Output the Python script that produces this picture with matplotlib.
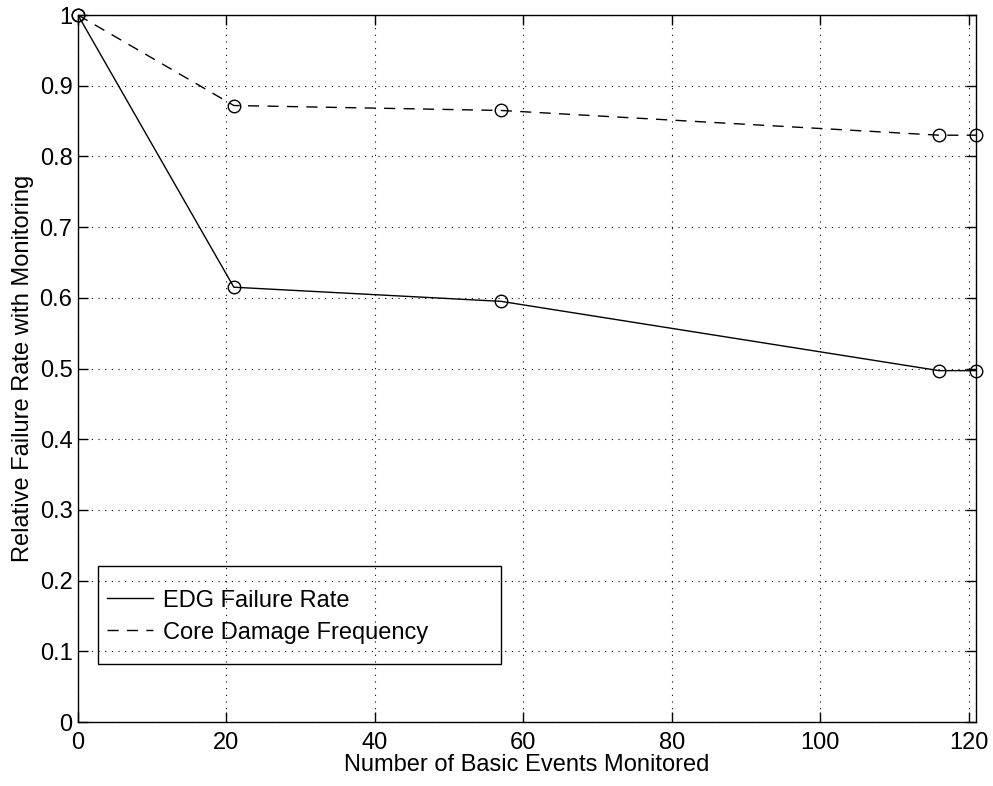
import matplotlib
matplotlib.use('Agg')
import matplotlib.pyplot as plt
import matplotlib.ticker as ticker
from matplotlib.patches import Rectangle

plt.rcParams['font.family'] = ['Liberation Sans', 'DejaVu Sans']

# basic events monitored vs. relative rates
events = [0, 21, 57, 116, 121]
edg_rate = [1.0, 0.615, 0.595, 0.497, 0.497]
cdf_rate = [1.0, 0.872, 0.865, 0.830, 0.830]

x_ticks = [0, 20, 40, 60, 80, 100, 120]
y_ticks = [0, 0.1, 0.2, 0.3, 0.4, 0.5, 0.6, 0.7, 0.8, 0.9, 1.0]

FS = 17

fig = plt.figure(figsize=(9.93, 7.86), dpi=100)
ax = fig.add_axes([0.0785, 0.0814, 0.9045, 0.8995])

ax.plot(events, edg_rate, color='black', linewidth=1.0, linestyle='-',
        label='EDG Failure Rate')
ax.plot(events, cdf_rate, color='black', linewidth=1.0, linestyle=(0, (8, 6)),
        label='Core Damage Frequency')
# open circle markers drawn separately so the legend shows plain lines
for vals in (edg_rate, cdf_rate):
    ax.plot(events, vals, linestyle='none', marker='o', markersize=9,
            markerfacecolor='none', markeredgecolor='black',
            markeredgewidth=1.0, clip_on=False, zorder=5)

ax.set_xlim(0, 121)
ax.set_ylim(0, 1)
ax.set_xticks(x_ticks)
ax.set_yticks(y_ticks)
ax.yaxis.set_major_formatter(ticker.FuncFormatter(lambda v, p: f'{v:g}'))

ax.grid(True, linestyle=(0, (1, 5)), color='black', linewidth=0.8)
ax.tick_params(direction='in', length=7, width=1.0, top=True, right=True,
               labelsize=FS, colors='black')
ax.tick_params(axis='x', pad=7)
ax.tick_params(axis='y', pad=4)
for spine in ax.spines.values():
    spine.set_linewidth(1.0)

ax.set_xlabel('Number of Basic Events Monitored', fontsize=FS, labelpad=0)
ax.set_ylabel('Relative Failure Rate with Monitoring', fontsize=FS, labelpad=4)

# legend entries without frame, box drawn as a see-through rectangle
leg = ax.legend(loc='center left', bbox_to_anchor=(0.0323, 0.149),
                fontsize=FS, frameon=False, handlelength=1.95,
                handletextpad=0.42, borderpad=0, labelspacing=0.42,
                borderaxespad=0)
ax.add_patch(Rectangle((0.0223, 0.082), 0.4487, 0.1387, transform=ax.transAxes,
                       facecolor='none', edgecolor='black', linewidth=1.0,
                       zorder=4))

fig.savefig('out.png', dpi=100)
plt.close('all')
